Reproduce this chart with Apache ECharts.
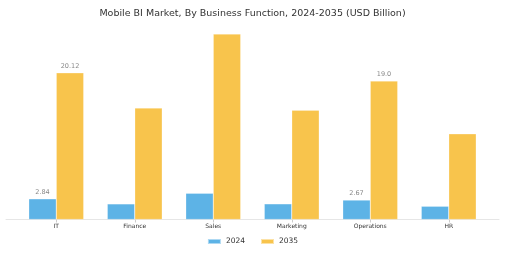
<!DOCTYPE html>
<html><head><meta charset="utf-8">
<script src="https://cdn.jsdelivr.net/npm/echarts@6/dist/echarts.min.js"></script>
<style>html,body{margin:0;padding:0;background:#fff}#c{width:505px;height:253px}</style>
</head><body><div id="c"></div>
<script>
const categories = ['IT', 'Finance', 'Sales', 'Marketing', 'Operations', 'HR'];
const values2024 = [2.84, 2.14, 3.6, 2.15, 2.67, 1.82];
const values2035 = [20.12, 15.3, 25.45, 15.0, 19.0, 11.75];
const labelShown2024 = ['2.84', '', '', '', '2.67', ''];
const labelShown2035 = ['20.12', '', '', '', '19.0', ''];
const seriesNames = ['2024', '2035'];

const chart = echarts.init(document.getElementById('c'), null, {renderer: 'canvas'});
const font = 'DejaVu Sans';
function mk(vals, labels) {
  return vals.map((v, i) => ({
    value: v,
    label: {show: labels[i] !== '', formatter: labels[i]}
  }));
}
chart.setOption({
  animation: false,
  textStyle: {fontFamily: font},
  title: {
    text: 'Mobile BI Market, By Business Function, 2024-2035 (USD Billion)',
    left: 'center', top: 4,
    textStyle: {fontFamily: font, fontSize: 9.5, fontWeight: 'normal', color: '#333'}
  },
  legend: {
    data: seriesNames, bottom: 2.5, left: 'center',
    itemWidth: 13, itemHeight: 5, itemGap: 15,
    icon: 'rect',
    textStyle: {fontFamily: font, fontSize: 7.5, color: '#333'}
  },
  grid: [
    {left: 17, right: 17, top: 34, bottom: 33.5},
    {left: 6, right: 6, top: 34, bottom: 33.5}
  ],
  xAxis: [
    {
      type: 'category', data: categories, gridIndex: 0,
      axisLine: {show: false},
      axisTick: {show: true, alignWithLabel: true, length: 3, lineStyle: {color: '#ccc'}},
      axisLabel: {fontFamily: font, fontSize: 6, color: '#333', margin: 4}
    },
    {
      type: 'category', data: [''], gridIndex: 1,
      axisLine: {show: true, lineStyle: {color: '#e6e6e6', width: 1}},
      axisTick: {show: false}, axisLabel: {show: false}
    }
  ],
  yAxis: [
    {type: 'value', gridIndex: 0, min: 0, max: 25.45, show: false, splitLine: {show: false}},
    {type: 'value', gridIndex: 1, show: false, splitLine: {show: false}}
  ],
  series: [
    {
      name: seriesNames[0], type: 'bar', xAxisIndex: 0, yAxisIndex: 0,
      data: mk(values2024, labelShown2024),
      barGap: '0%', barCategoryGap: '30%',
      itemStyle: {color: '#5DB3E6', borderColor: 'rgba(255,255,255,0.5)', borderWidth: 0.5},
      label: {position: 'top', fontFamily: font, fontSize: 6.5, color: '#888', distance: 3}
    },
    {
      name: seriesNames[1], type: 'bar', xAxisIndex: 0, yAxisIndex: 0,
      data: mk(values2035, labelShown2035),
      barGap: '0%', barCategoryGap: '30%',
      itemStyle: {color: '#F8C44C', borderColor: 'rgba(255,255,255,0.5)', borderWidth: 0.5},
      label: {position: 'top', fontFamily: font, fontSize: 6.5, color: '#888', distance: 3}
    }
  ]
});
</script></body></html>
